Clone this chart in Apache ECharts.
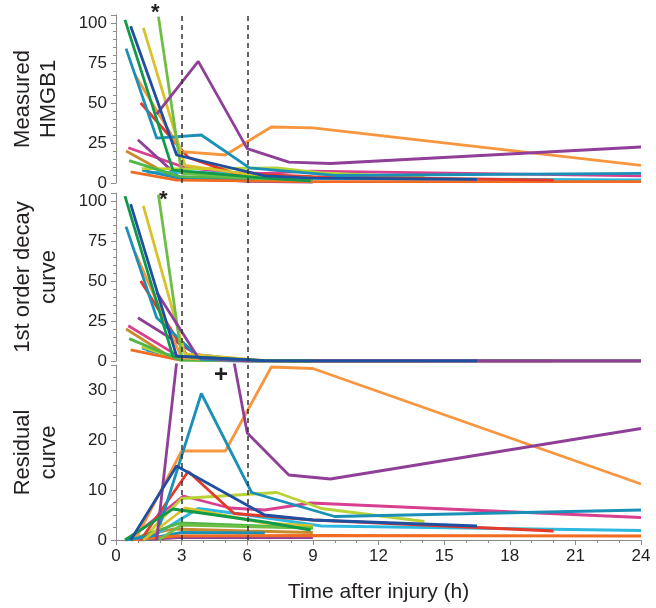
<!DOCTYPE html>
<html>
<head>
<meta charset="utf-8">
<script src="https://cdn.jsdelivr.net/npm/echarts@6/dist/echarts.min.js"></script>
<style>
html, body { margin: 0; padding: 0; background: #fff; }
#chart { width: 656px; height: 608px; }
</style>
</head>
<body>
<div id="chart"></div>
<script>
// one entry per patient, same order in every list
const colors = ['#c98a2b', '#d8408f', '#8f3f97', '#2db8e0', '#1a90b7', '#b8d336', '#f26b22', '#4fb648',
    '#e5392b', '#f8963f', '#1a90b7', '#d8c22c', '#6ebd45', '#8f3f97', '#109a4a', '#1f4f9f'];

// [hours, value]
const measured = [
    [[0.46, 20], [2.6, 3.7], [6, 1.8], [9, 1.5]],
    [[0.56, 22], [3.08, 10], [5.2, 6.5], [6.8, 6], [8.9, 7.4], [24, 4.5]],
    [[1, 27], [2.85, 4], [6, 1], [9, 0.5]],
    [[1.4, 6.7], [3.76, 6.8], [5.67, 5.2], [9.4, 2.8], [24, 1.9]],
    [[1.2, 8], [3, 2.5], [6.8, 1.4]],
    [[1.17, 9], [3, 8.8], [7.35, 9.5], [9.4, 6.3], [14.1, 3.7]],
    [[0.67, 7], [2.77, 1.8], [9, 0.9], [24, 0.8]],
    [[0.6, 14], [2.93, 4], [9, 2.4]],
    [[1.13, 50], [3.3, 16], [5.4, 6], [9, 4], [20, 1.8]],
    [[0.87, 67.5], [3, 19.6], [5, 17.5], [7.1, 35], [9, 34.5], [24, 11]],
    [[0.46, 84], [1.86, 28], [3.9, 30], [6.1, 9.5], [10, 4.7], [24, 6]],
    [[1.25, 97], [3.15, 11], [6.8, 4], [9, 3]],
    [[1.94, 104], [3, 6], [6.8, 2.6], [9, 2.4]],
    [[1.86, 43], [3.76, 76], [6, 21.5], [7.9, 13], [9.8, 12.2], [24, 22.5]],
    [[0.41, 102], [2.6, 8], [6.8, 3], [8.9, 1.3]],
    [[0.67, 98], [2.77, 17.5], [6.8, 4.4], [9, 3], [16.5, 2.3]]
];

const decay = [
    [[0.46, 20], [2.6, 1.5], [6, 0], [9, 0]],
    [[0.56, 22], [3.08, 1.2], [5.2, 0.1], [6.8, 0], [8.9, 0], [24, 0]],
    [[1, 27], [3.7, 4], [6, 0.5], [9, 0]],
    [[1.4, 6.7], [3.76, 0.5], [5.67, 0], [9.4, 0], [24, 0]],
    [[1.2, 8], [3, 1], [6.8, 0]],
    [[1.17, 9], [3, 0.5], [7.35, 0], [9.4, 0], [14.1, 0]],
    [[0.67, 7], [2.77, 1], [9, 0], [24, 0]],
    [[0.6, 14], [2.93, 0.6], [9, 0]],
    [[1.13, 50], [3.3, 2.3], [5.4, 0.3], [9, 0], [20, 0]],
    [[0.87, 68], [3, 2], [5, 0.3], [7.1, 0], [9, 0], [24, 0]],
    [[0.46, 84], [1.86, 27], [3.9, 1], [6.1, 0], [10, 0], [24, 0]],
    [[1.25, 97], [3.15, 4.5], [6.8, 0.2], [9, 0]],
    [[1.94, 104], [3, 3], [6.8, 0], [9, 0]],
    [[1.86, 43], [3.76, 2], [6, 0.1], [7.9, 0], [9.8, 0], [24, 0]],
    [[0.41, 103], [2.6, 3], [6.8, 0.2], [8.9, 0]],
    [[0.67, 98], [2.77, 3], [6.8, 0.2], [9, 0], [16.5, 0]]
];

const residual = [
    [[0.46, 0], [2.6, 2.2], [6, 1.8], [9, 1.5]],
    [[0.56, 0], [3.08, 8.8], [5.2, 6.4], [6.8, 6], [8.9, 7.4], [24, 4.5]],
    [[1, 0], [2.85, 0.5], [6, 0.5], [9, 0.5]],
    [[1.4, 0], [3.76, 6.3], [5.67, 5.2], [9.4, 2.8], [24, 1.9]],
    [[1.2, 0], [3, 1.5], [6.8, 1.4]],
    [[1.17, 0], [3, 8.3], [7.35, 9.5], [9.4, 6.3], [14.1, 3.7]],
    [[0.67, 0], [2.77, 0.8], [9, 0.9], [24, 0.8]],
    [[0.6, 0], [2.93, 3.4], [9, 2.4]],
    [[1.13, 0], [3.3, 13.7], [5.4, 5.3], [9, 4], [20, 1.8]],
    [[0.87, 0], [3, 17.8], [5, 17.8], [7.1, 34.6], [9, 34.3], [24, 11.2]],
    [[0.46, 0], [1.86, 1], [3.9, 29.3], [6.2, 9.5], [10, 4.7], [24, 6]],
    [[1.25, 0], [3.15, 6.4], [6.8, 3.4], [9, 2.8]],
    [[1.94, 0], [3, 3], [6.8, 2.6], [9, 2.4]],
    [[1.86, 0], [3.76, 74], [6, 21.4], [7.9, 13], [9.8, 12.2], [24, 22.3]],
    [[0.41, 0], [2.6, 6.2], [6.8, 3.6], [8.9, 2]],
    [[0.67, 0], [2.77, 14.8], [6.8, 5], [9, 4], [16.5, 2.8]]
];

const panelNames = ['Measured\nHMGB1', '1st order decay\ncurve', 'Residual\ncurve'];
const panelMax = [105, 105, 35];
const panelStep = [25, 25, 10];
const panelMinor = [5, 5, 4];
const markTimes = [3, 6];

const font = 'Liberation Sans, Arial, Helvetica, sans-serif';
const ink = '#231f20';
const axisGray = '#8c8c8c';

const grids = [
    { left: 116, right: 15, top: 15, height: 168 },
    { left: 116, right: 15, top: 193, height: 168 },
    { left: 116, right: 15, top: 365, height: 175 }
];

const xAxes = grids.map((g, i) => ({
    type: 'value',
    gridIndex: i,
    min: 0,
    max: 24,
    interval: 3,
    show: i === 2,
    name: 'Time after injury (h)',
    nameLocation: 'middle',
    nameGap: 42,
    nameTextStyle: { fontFamily: font, fontSize: 21, color: ink },
    axisLine: { show: true, lineStyle: { color: axisGray, width: 1 } },
    axisTick: { show: true, length: 5, lineStyle: { color: axisGray } },
    minorTick: { show: true, splitNumber: 3, length: 3, lineStyle: { color: axisGray } },
    axisLabel: { fontFamily: font, fontSize: 17, color: ink, margin: 8 },
    splitLine: { show: false }
}));

const yAxes = grids.map((g, i) => ({
    type: 'value',
    gridIndex: i,
    min: 0,
    max: panelMax[i],
    interval: panelStep[i],
    name: panelNames[i],
    nameLocation: 'middle',
    nameRotate: 90,
    nameGap: 54,
    nameTextStyle: { fontFamily: font, fontSize: 22, color: ink, lineHeight: 26 },
    axisLine: { show: true, lineStyle: { color: axisGray, width: 1 } },
    axisTick: { show: true, length: 5, lineStyle: { color: axisGray } },
    minorTick: { show: true, splitNumber: panelMinor[i], length: 3, lineStyle: { color: axisGray } },
    axisLabel: {
        fontFamily: font, fontSize: 17, color: ink, margin: 9,
        formatter: (v) => (v % panelStep[i] === 0 ? String(v) : '')
    },
    splitLine: { show: false }
}));

const series = [];
[measured, decay, residual].forEach((panel, g) => {
    panel.forEach((pts, i) => {
        const s = {
            type: 'line',
            xAxisIndex: g,
            yAxisIndex: g,
            data: pts,
            symbol: 'none',
            clip: true,
            silent: true,
            animation: false,
            z: 3,
            lineStyle: { color: colors[i], width: 2.8 },
            itemStyle: { color: colors[i] }
        };
        if (i === 0) {
            s.markLine = {
                silent: true,
                symbol: 'none',
                animation: false,
                label: { show: false },
                lineStyle: { color: '#333', type: [5, 4], width: 1.5 },
                data: markTimes.map((t) => ({ xAxis: t }))
            };
        }
        series.push(s);
    });
});

const chart = echarts.init(document.getElementById('chart'), null, { renderer: 'canvas' });
chart.setOption({
    backgroundColor: '#fff',
    animation: false,
    grid: grids,
    xAxis: xAxes,
    yAxis: yAxes,
    series: series,
    graphic: [
        { type: 'text', left: 151, top: 2, style: { text: '*', fontFamily: font, fontSize: 22, fontWeight: 'bold', fill: ink } },
        { type: 'text', left: 159, top: 189, style: { text: '*', fontFamily: font, fontSize: 22, fontWeight: 'bold', fill: ink } },
        { type: 'text', left: 214, top: 363, style: { text: '+', fontFamily: font, fontSize: 24, fontWeight: 'bold', fill: ink } }
    ]
});
</script>
</body>
</html>
